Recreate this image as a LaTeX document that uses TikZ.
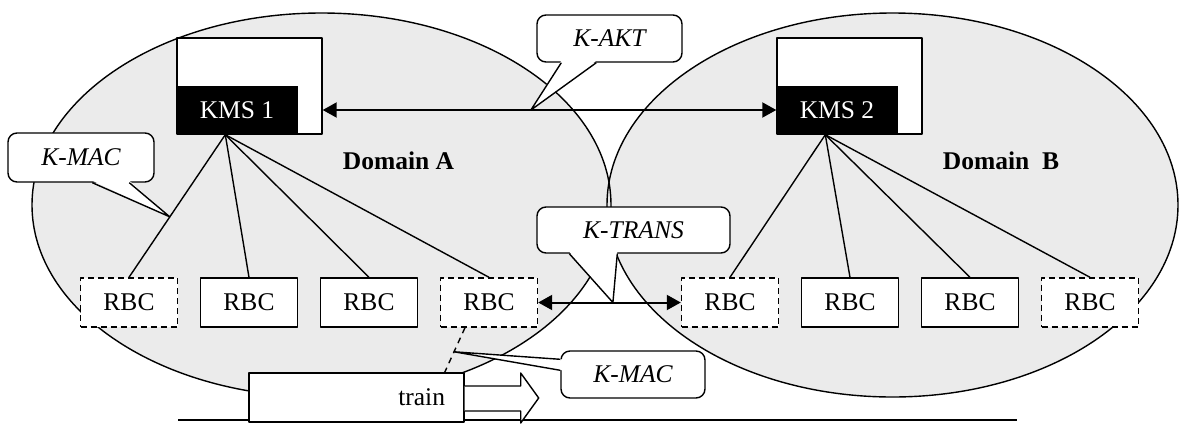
\documentclass[tikz,border=0pt]{standalone}
\usepackage{fontspec}
\setmainfont{Liberation Serif}
\usetikzlibrary{calc,arrows.meta}
\begin{document}
\begin{tikzpicture}[x=1pt, y=-1pt, line join=round, font=\fontsize{25.5}{30}\selectfont,
  >={Triangle[length=14pt,width=15pt]},
  edge/.style={line width=1.4pt},
  link/.style={line width=2pt, <->},
  rbc/.style={draw, fill=white, line width=1.4pt, minimum width=97pt, minimum height=49pt, inner sep=0pt},
  rbcdash/.style={rbc, dash pattern=on 6pt off 4pt},
  kmsbox/.style={draw, fill=white, line width=1.4pt, minimum width=145pt, minimum height=96pt, inner sep=0pt},
  kmscore/.style={fill=black, text=white, minimum width=121pt, minimum height=49pt, inner sep=0pt},
  callbox/.style={draw, fill=white, line width=1.4pt, rounded corners=9pt, inner sep=0pt, font=\fontsize{25.5}{30}\selectfont\itshape},
  domlabel/.style={font=\fontsize{25.5}{30}\selectfont\bfseries, anchor=base}]
  \fill[white] (0,0) rectangle (1179,424);
  \useasboundingbox (0,0) rectangle (1179,424);
  \coordinate (domA) at (321.5,205); \coordinate (domB) at (892.5,205);
  \fill[gray!16] (domA) ellipse [x radius=289.5pt, y radius=192pt];
  \fill[gray!16] (domB) ellipse [x radius=285.5pt, y radius=192pt];
  \draw[edge] (domA) ellipse [x radius=289.5pt, y radius=192pt];
  \draw[edge] (domB) ellipse [x radius=285.5pt, y radius=192pt];
  \node[kmsbox] (kms1) at (249.5,86) {};
  \node[kmscore, anchor=south west] (core1) at (kms1.south west) {KMS 1};
  \node[kmsbox] (kms2) at (849.5,86) {};
  \node[kmscore, anchor=south west] (core2) at (kms2.south west) {KMS 2};
  \foreach \i/\s in {1/rbcdash,2/rbc,3/rbc,4/rbcdash}{
    \node[\s] (a\i) at ({9+120*\i},302.5) {RBC};
    \node[\s] (b\i) at ({610+120*\i},302.5) {RBC};}
  \coordinate (hub1) at ($(core1.south west)+(49,0)$);
  \coordinate (hub2) at ($(core2.south west)+(49,0)$);
  \foreach \i in {1,...,4}{\draw[edge] (hub1) -- (a\i.north); \draw[edge] (hub2) -- (b\i.north);}
  \draw[link] (core1.east -| kms1.east) -- (core2.west);
  \draw[link] (a4.east) -- (b1.west);
  \node[domlabel] (labA) at (398.5,169) {Domain A};
  \node[domlabel] (labB) at (1001,169) {Domain\ \ B};
  \coordinate (railL) at (178,419.5); \coordinate (railR) at (1017,419.5);
  \draw[line width=2pt] (railL) -- (railR);
  \node[draw, fill=white, line width=1.4pt, minimum width=215pt, minimum height=49pt, text width=177pt, inner xsep=19pt, inner ysep=0pt, align=right] (train) at (356.5,397.5) {train};
  \draw[edge, fill=white] (train.east) ++(0,-11.5) -- ++(56,0) -- ++(0,-13) -- ++(18,25) -- ++(-18,25) -- ++(0,-12) -- ++(-56,0);
  \coordinate (dtop) at ($(a4.south)+(-24,0)$); \coordinate (dbot) at ($(train.north east)+(-20,0)$);
  \draw[edge, dash pattern=on 6pt off 5pt] (dtop) -- (dbot);
  \node[callbox, minimum width=145pt, minimum height=47pt] (akt) at (609.5,38.5) {K-AKT};
  \node[callbox, minimum width=193pt, minimum height=46pt] (trans) at (633.5,230) {K-TRANS};
  \node[callbox, minimum width=146pt, minimum height=49pt] (mac1) at (81,157.5) {K-MAC};
  \node[callbox, minimum width=144pt, minimum height=47pt] (mac2) at (633,374.5) {K-MAC};
  \coordinate (aktTip) at ($(core1.east -| kms1.east)!0.459!(core2.west)$);
  \coordinate (transTip) at ($(a4.east)!0.524!(b1.west)$);
  \coordinate (macTip1) at ($(hub1)!0.576!(a1.north)$);
  \coordinate (macTip2) at ($(dtop)!0.54!(dbot)$);
  \foreach \c/\p/\q/\t in {akt/25/60/aktTip, trans/33/81/transTip, mac1/85/122/macTip1}{
    \fill[white] ($(\c.south west)+(\p,-2)$) -- (\t) -- ($(\c.south west)+(\q,-2)$) -- cycle;
    \draw[edge] ($(\c.south west)+(\p,0)$) -- (\t) -- ($(\c.south west)+(\q,0)$);}
  \fill[white] ($(mac2.north west)+(2,9)$) -- (macTip2) -- ($(mac2.north west)+(2,20)$) -- cycle;
  \draw[edge] ($(mac2.north west)+(0,9)$) -- (macTip2) -- ($(mac2.north west)+(0,20)$);
\end{tikzpicture}
\end{document}
